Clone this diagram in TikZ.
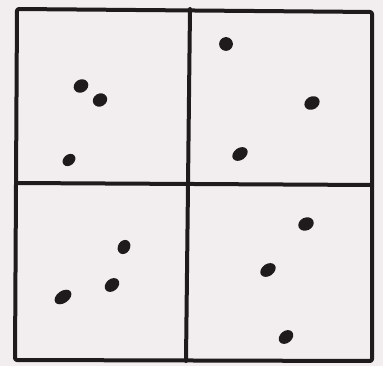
\documentclass[tikz,border=0pt]{standalone}
\usepackage{tikz}
\definecolor{paper}{HTML}{F2EEEF}
\definecolor{ink}{HTML}{1F1B1D}

\tikzset{
    frame/.style={draw=ink, line width=4pt, line join=round, line cap=round},
    spot/.style={fill=ink}
}

\begin{document}
\begin{tikzpicture}[x=1pt, y=-1pt]
    \fill[paper] (0,0) rectangle (383,366);
    \useasboundingbox (0,0) rectangle (383,366);
    % outer square
    \draw[frame, rounded corners=2pt] (17,9)--(372,12)--(372,361)--(15,360)--cycle;
    % dividers
    \draw[frame] (190,9)--(186,361);
    \draw[frame] (16,183)--(372,185);
    % upper left
    \fill[spot, rotate around={30:(81,86)}] (81,86) ellipse (7.6 and 6.4);
    \fill[spot, rotate around={30:(100,100)}] (100,100) ellipse (7.4 and 6.4);
    \fill[spot, rotate around={40:(69,160)}] (69,160) ellipse (7 and 5.4);
    % upper right
    \fill[spot] (226,44) ellipse (6.9 and 6.9);
    \fill[spot, rotate around={30:(312,103)}] (312,103) ellipse (8 and 6.4);
    \fill[spot, rotate around={35:(240,154)}] (240,154) ellipse (8.4 and 6);
    % lower left
    \fill[spot, rotate around={60:(124,247)}] (124,247) ellipse (7.4 and 6);
    \fill[spot, rotate around={40:(112,285)}] (112,285) ellipse (8 and 6);
    \fill[spot, rotate around={35:(63,297)}] (63,297) ellipse (9.4 and 6);
    % lower right
    \fill[spot, rotate around={25:(306,224)}] (306,224) ellipse (8 and 6.4);
    \fill[spot, rotate around={35:(268,270)}] (268,270) ellipse (8.4 and 6);
    \fill[spot, rotate around={40:(286,337)}] (286,337) ellipse (8 and 6);
\end{tikzpicture}
\end{document}
